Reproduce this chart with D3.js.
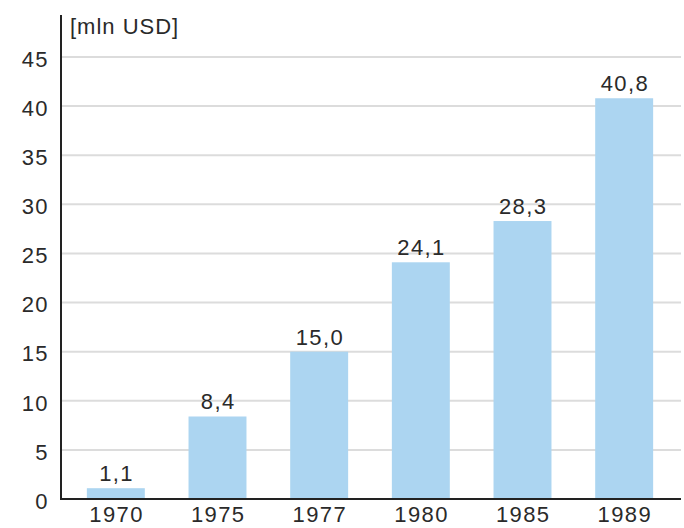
<!DOCTYPE html>
<html><head><meta charset="utf-8">
<script src="https://cdn.jsdelivr.net/npm/d3@7"></script>
<style>body{margin:0;background:#fff}svg{display:block}</style>
</head><body>
<script>
const categories = ["1970","1975","1977","1980","1985","1989"];
const values = [1.1, 8.4, 15.0, 24.1, 28.3, 40.8];
const valueLabels = ["1,1","8,4","15,0","24,1","28,3","40,8"];
const yTicks = [0,5,10,15,20,25,30,35,40,45];
const unitLabel = "[mln USD]";

const W = 684, H = 528;
const svg = d3.select("body").append("svg").attr("width", W).attr("height", H);
const font = "'Liberation Sans', Arial, Helvetica, sans-serif";
const fs = 22, ls = "1.4px", txt = "#2a2a2a";

const y = d3.scaleLinear().domain([0,45]).range([499,57]);
const x = d3.scaleBand().domain(categories).range([65,675]).paddingInner(0.43).paddingOuter(0.215);

// gridlines
svg.append("g").selectAll("line").data(yTicks.filter(d=>d>0)).join("line")
  .attr("x1",61).attr("x2",681).attr("y1",d=>y(d)).attr("y2",d=>y(d))
  .attr("stroke","#dcdcdc").attr("stroke-width",2);

// bars
svg.append("g").selectAll("rect").data(values).join("rect")
  .attr("x",(d,i)=>x(categories[i])).attr("width",x.bandwidth())
  .attr("y",d=>y(d)).attr("height",d=>y(0)-y(d))
  .attr("fill","#acd5f1");

// value labels
svg.append("g").selectAll("text").data(values).join("text")
  .attr("x",(d,i)=>x(categories[i])+x.bandwidth()/2+0.7).attr("y",d=>y(d)-7)
  .attr("text-anchor","middle").attr("font-family",font).attr("font-size",fs)
  .attr("letter-spacing",ls).attr("fill",txt).text((d,i)=>valueLabels[i]);

// y axis
const yAxis = d3.axisLeft(y).tickValues(yTicks).tickSize(0).tickPadding(12);
const gy = svg.append("g").attr("transform","translate(61,0)").call(yAxis);
gy.select(".domain").remove();
gy.selectAll("text").attr("font-family",font).attr("font-size",fs).attr("letter-spacing",ls)
  .attr("fill",txt).attr("dy","0.42em");
svg.append("line").attr("x1",61).attr("x2",61).attr("y1",15).attr("y2",499)
  .attr("stroke","#222").attr("stroke-width",2);

// x axis
const xAxis = d3.axisBottom(x).tickSize(0).tickPadding(7);
const gx = svg.append("g").attr("transform","translate(0,499)").call(xAxis);
gx.select(".domain").remove();
gx.selectAll("text").attr("font-family",font).attr("font-size",fs).attr("letter-spacing",ls)
  .attr("fill",txt).attr("dx","0.7");
svg.append("line").attr("x1",60).attr("x2",681).attr("y1",499).attr("y2",499)
  .attr("stroke","#222").attr("stroke-width",2);

svg.append("text").attr("x",70).attr("y",34).attr("font-family",font).attr("font-size",fs)
  .attr("letter-spacing","1px").attr("fill",txt).text(unitLabel);
</script>
</body></html>
